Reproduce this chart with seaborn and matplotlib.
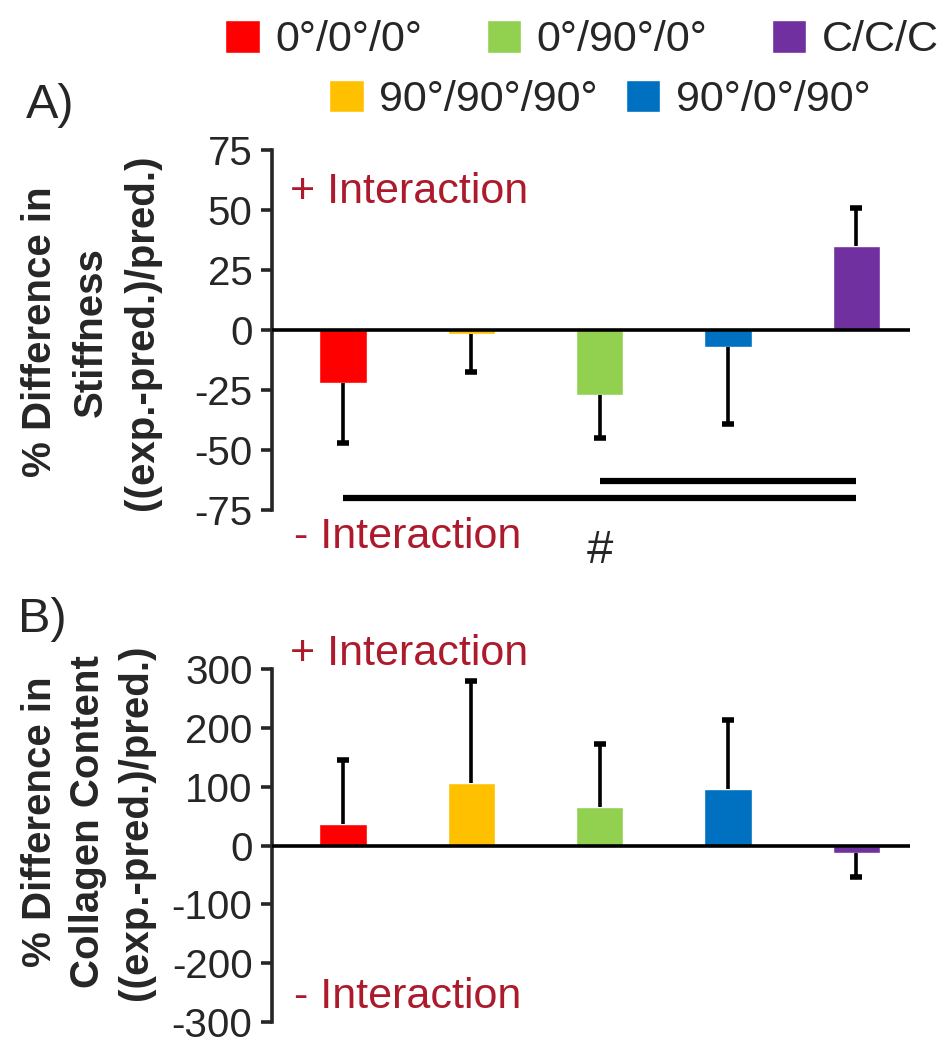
import matplotlib.pyplot as plt
import seaborn as sns
from matplotlib.patches import Patch

sns.set_style("ticks")
plt.rcParams['font.family'] = ['Liberation Sans', 'DejaVu Sans']
plt.rcParams['axes.unicode_minus'] = False

# ----------------------------------------
# Data
# ----------------------------------------
groups = ["0°/0°/0°", "90°/90°/90°", "0°/90°/0°", "90°/0°/90°", "C/C/C"]
colors = ["#FF0000", "#FFC000", "#92D050", "#0070C0", "#7030A0"]

stiff_mean = [-22, -1.5, -27, -7, 35]
stiff_sd = [25, 16, 18, 32, 16]

coll_mean = [37, 107, 65, 97, -12]
coll_sd = [108, 173, 108, 117, 41]

# significance bars in panel A (group index pairs and their height)
sig_pairs = [(0, 4), (2, 4)]
sig_y = [-70, -63]

red_txt = "#AC1A2C"


def draw_panel(ax, means, sds, ylim, ticks):
    sns.barplot(x=groups, y=means, hue=groups, palette=colors, width=0.37,
                saturation=1, legend=False, ax=ax, zorder=2)
    pos = list(range(len(groups)))
    lower = [sd if m < 0 else 0 for m, sd in zip(means, sds)]
    upper = [sd if m >= 0 else 0 for m, sd in zip(means, sds)]
    ends = [m - sd if m < 0 else m + sd for m, sd in zip(means, sds)]
    ax.errorbar(pos, means, yerr=[lower, upper], fmt="none", ecolor="black",
                elinewidth=2.6, capsize=0, zorder=3)
    ax.plot(pos, ends, linestyle="none", marker="_", markersize=9,
            markeredgewidth=4, color="black", zorder=3)
    ax.axhline(0, color="black", lw=2.6, zorder=4)
    ax.set_ylim(ylim)
    ax.set_yticks(ticks)
    ax.set_xlim(-0.555, 4.42)
    ax.set_xticks([])
    ax.set_xlabel("")
    ax.set_ylabel("")
    sns.despine(ax=ax, bottom=True)
    ax.spines["left"].set_linewidth(2.6)
    ax.tick_params(axis="y", length=8, width=2.6, labelsize=29, pad=6)


fig = plt.figure(figsize=(9.51, 10.5), dpi=100)
axA = fig.add_axes([0.286, 0.514, 0.671, 0.343])
axB = fig.add_axes([0.286, 0.0267, 0.671, 0.336])

# ----------------------------------------
# Panel A: stiffness
# ----------------------------------------
draw_panel(axA, stiff_mean, stiff_sd, (-75, 75), [-75, -50, -25, 0, 25, 50, 75])
for (a, b), y in zip(sig_pairs, sig_y):
    axA.plot([a, b], [y, y], color="black", lw=4.5, solid_capstyle="butt", zorder=3)
axA.text(2, -92, "#", ha="center", va="center", fontsize=34, clip_on=False)
axA.text(0.028, 57.5, "+ Interaction", transform=axA.get_yaxis_transform(),
         color=red_txt, fontsize=31, va="center", ha="left")
axA.text(0.035, -86, "- Interaction", transform=axA.get_yaxis_transform(),
         color=red_txt, fontsize=31, va="center", ha="left", clip_on=False)

# ----------------------------------------
# Panel B: collagen content
# ----------------------------------------
draw_panel(axB, coll_mean, coll_sd, (-300, 300), [-300, -200, -100, 0, 100, 200, 300])
axB.text(0.028, 326, "+ Interaction", transform=axB.get_yaxis_transform(),
         color=red_txt, fontsize=31, va="center", ha="left", clip_on=False)
axB.text(0.035, -257, "- Interaction", transform=axB.get_yaxis_transform(),
         color=red_txt, fontsize=31, va="center", ha="left")

# y labels
fig.text(91 / 951, 1 - 332 / 1050, "% Difference in\nStiffness\n((exp.-pred.)/pred.)",
         rotation=90, ha="center", va="center", multialignment="center",
         fontsize=29, fontweight="bold", linespacing=1.42)
fig.text(88 / 951, 1 - 822 / 1050, "% Difference in\nCollagen Content\n((exp.-pred.)/pred.)",
         rotation=90, ha="center", va="center", multialignment="center",
         fontsize=29, fontweight="bold", linespacing=1.32)

# panel letters
fig.text(26 / 951, 1 - 106 / 1050, "A)", fontsize=35, ha="left", va="center")
fig.text(18 / 951, 1 - 619 / 1050, "B)", fontsize=35, ha="left", va="center")

# ----------------------------------------
# Legend (two rows)
# ----------------------------------------
row1 = [0, 2, 4]
row2 = [1, 3]
h1 = [Patch(facecolor=colors[i]) for i in row1]
h2 = [Patch(facecolor=colors[i]) for i in row2]
fig.legend(h1, [groups[i] for i in row1], loc="center", bbox_to_anchor=(0.612, 0.962),
           ncol=3, frameon=False, fontsize=31, handlelength=0.8, handleheight=0.8,
           handletextpad=0.36, columnspacing=1.5, borderpad=0)
fig.legend(h2, [groups[i] for i in row2], loc="center", bbox_to_anchor=(0.631, 0.905),
           ncol=2, frameon=False, fontsize=31, handlelength=0.8, handleheight=0.8,
           handletextpad=0.36, columnspacing=0.65, borderpad=0)

plt.savefig("out.png", dpi=100)
